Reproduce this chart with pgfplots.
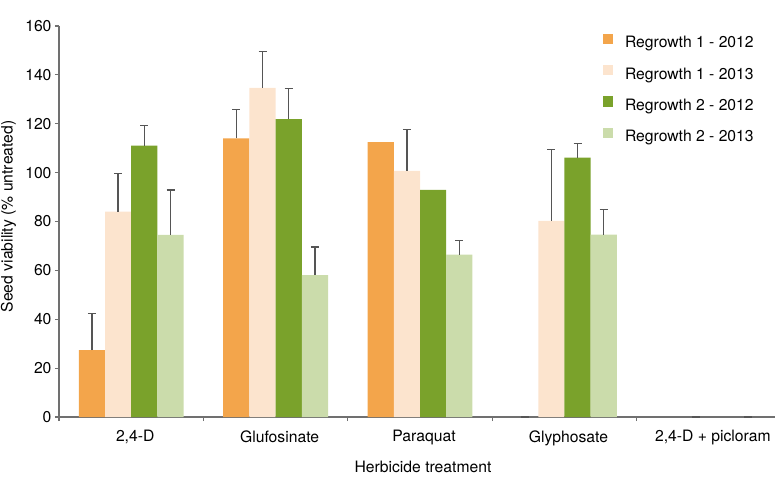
\documentclass[border=0pt]{standalone}
\usepackage{pgfplots}
\pgfplotsset{compat=1.18}
\usepackage{fontspec}
\setmainfont{TeX Gyre Heros}

\definecolor{regOneA}{RGB}{243,165,75}
\definecolor{regOneB}{RGB}{252,228,206}
\definecolor{regTwoA}{RGB}{122,162,43}
\definecolor{regTwoB}{RGB}{203,220,171}
\definecolor{axisgray}{RGB}{112,112,112}
\definecolor{errgray}{RGB}{85,85,85}

\newcommand{\chartfont}{\fontsize{15.7bp}{18bp}\selectfont}

\pgfplotsset{
  errstyle/.style={
    draw=none, fill=none, forget plot,
    error bars/.cd, y dir=plus, y explicit,
    error bar style={draw=errgray, line width=1.3bp, solid},
    error mark options={rotate=90, mark size=4bp, draw=errgray, line width=1.3bp},
  },
}

\begin{document}
\begin{tikzpicture}
\path[use as bounding box] (-59bp,-65bp) rectangle (716bp,417bp);
\begin{axis}[
  at={(0,0)}, anchor=south west,
  scale only axis, width=716bp, height=391bp,
  ybar, bar width=0.1814,
  xmin=-0.5, xmax=4.458, ymin=0, ymax=160,
  axis x line*=bottom, axis y line*=left,
  axis line style={draw=axisgray, line width=1.3bp, -},
  tick align=outside,
  tick style={draw=axisgray, line width=1.2bp},
  major tick length=4bp, minor tick length=4bp,
  ytick={0,20,...,160},
  xtick={0,1,2,3,4},
  xticklabels={{2,4-D}, {Glufosinate}, {Paraquat}, {Glyphosate}, {2,4-D + picloram}},
  major x tick style={draw=none},
  minor xtick={-0.5,0.5,1.5,2.5,3.5},
  tick label style={font=\chartfont},
  /pgf/number format/assume math mode=true,
  xticklabel style={xshift=4bp, yshift=-6bp},
  xlabel={Herbicide treatment},
  ylabel={Seed viability (\% untreated)},
  label style={font=\chartfont},
  xlabel style={at={(axis description cs:0.5084,-0.1425)}, anchor=base},
  ylabel style={at={(axis description cs:-0.0649,0.5128)}, anchor=base, rotate=0},
  legend style={draw=none, fill=none, inner sep=0pt, outer sep=0pt,
    at={(axis description cs:0.7598,0.9803)}, anchor=north west,
    font=\chartfont, row sep=14.1bp, column sep=12bp,
    nodes={inner sep=0pt, text height=11.3bp, text depth=3.3bp}},
  legend cell align=left,
  legend image code/.code={\fill[#1] (0bp,0bp) rectangle (10bp,10bp);},
]
% bars
\addplot[fill=regOneA, draw=none, bar shift=-0.2721]
  coordinates {(0,27.4) (1,114.0) (2,112.5)};
\addlegendentry{Regrowth 1 - 2012}
\addplot[fill=regOneB, draw=none, bar shift=-0.0907]
  coordinates {(0,84.0) (1,134.7) (2,100.7) (3,80.3)};
\addlegendentry{Regrowth 1 - 2013}
\addplot[fill=regTwoA, draw=none, bar shift=0.0907]
  coordinates {(0,111.0) (1,121.9) (2,92.9) (3,106.1)};
\addlegendentry{Regrowth 2 - 2012}
\addplot[fill=regTwoB, draw=none, bar shift=0.2721]
  coordinates {(0,74.5) (1,58.1) (2,66.4) (3,74.6)};
\addlegendentry{Regrowth 2 - 2013}
% upper error bars
\addplot[bar shift=-0.2721, errstyle]
  coordinates {(0,27.4) +- (0,15.0) (1,114.0) +- (0,11.9) (3,0) +- (0,0)};
\addplot[bar shift=-0.0907, errstyle]
  coordinates {(0,84.0) +- (0,15.5) (1,134.7) +- (0,14.8) (2,100.7) +- (0,16.9)
               (3,80.3) +- (0,29.2) (4,0) +- (0,0)};
\addplot[bar shift=0.0907, errstyle]
  coordinates {(0,111.0) +- (0,8.2) (1,121.9) +- (0,12.4) (3,106.1) +- (0,5.9)};
\addplot[bar shift=0.2721, errstyle]
  coordinates {(0,74.5) +- (0,18.4) (1,58.1) +- (0,11.5) (2,66.4) +- (0,5.7)
               (3,74.6) +- (0,10.4) (4,0) +- (0,0)};
\end{axis}
\end{tikzpicture}
\end{document}
